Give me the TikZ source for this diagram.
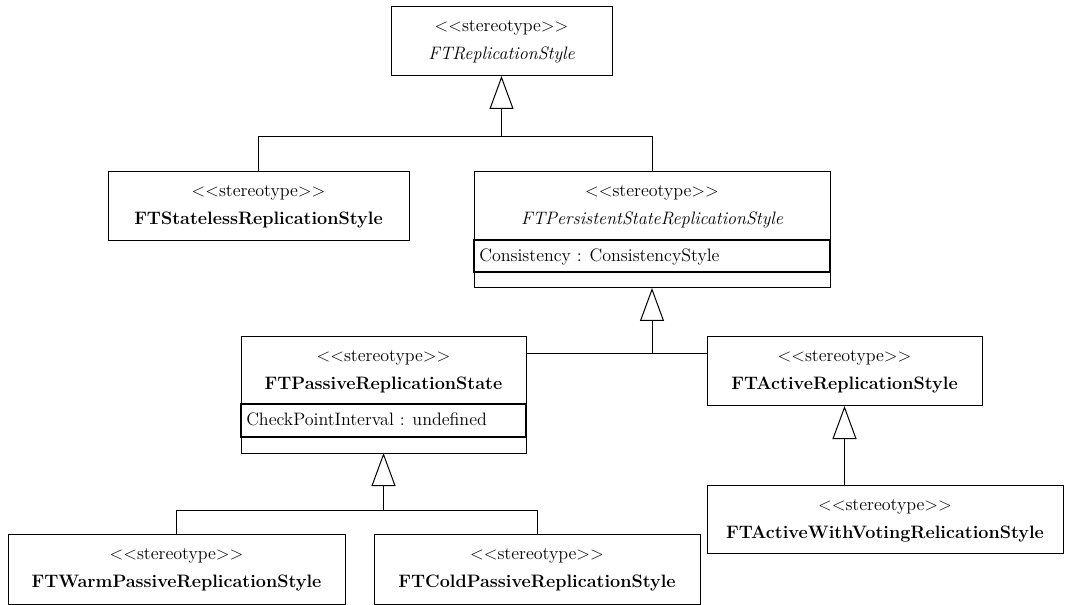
\documentclass[tikz,border=0pt]{standalone}
\usetikzlibrary{arrows.meta,calc}
\begin{document}
\begin{tikzpicture}[x=0.75pt,y=-0.75pt,
  cls/.style={draw=black, line width=0.75pt, rectangle, inner sep=0pt, outer sep=0pt, anchor=north west},
  txt/.style={inner sep=0pt, anchor=base, font=\fontsize{13.5}{16}\selectfont},
  cname/.style={txt, font=\fontsize{13.5}{16}\selectfont\bfseries},
  aname/.style={txt, font=\fontsize{13.5}{16}\selectfont\itshape},
  attr/.style={txt, anchor=base west},
  attrrow/.style={draw, line width=1.5pt},
  link/.style={draw, line width=0.75pt},
  gen/.style={draw, line width=0.75pt, -{Triangle[open, length=24.75pt, width=18pt, line width=0.75pt]}}]
\useasboundingbox (0,0) rectangle (1077,605);

% class boxes
\node[cls, minimum width=165.75pt, minimum height=51.75pt] (top) at (391,7) {};
\node[cls, minimum width=225.75pt, minimum height=51.75pt] (stateless) at (108,172) {};
\node[cls, minimum width=267pt, minimum height=87pt] (persist) at (474,172) {};
\node[cls, minimum width=213.75pt, minimum height=87pt] (passive) at (241,337) {};
\node[cls, minimum width=206.25pt, minimum height=51.75pt] (active) at (707,337) {};
\node[cls, minimum width=267pt, minimum height=51pt] (voting) at (707,485) {};
\node[cls, minimum width=252.75pt, minimum height=52.5pt] (warm) at (8,534) {};
\node[cls, minimum width=244.5pt, minimum height=52.5pt] (cold) at (374,534) {};

% texts
\node[txt] (top-s) at ($(top.north)+(0,25)$) {{<}{<}stereotype{>}{>}};
\node[aname] (top-n) at ($(top.north)+(0,53)$) {FTReplicationStyle};

\node[txt] (stateless-s) at ($(stateless.north)+(0,25)$) {{<}{<}stereotype{>}{>}};
\node[cname] (stateless-n) at ($(stateless.north)+(0,53)$) {FTStatelessReplicationStyle};

\node[txt] (persist-s) at ($(persist.north)+(0,25)$) {{<}{<}stereotype{>}{>}};
\node[aname] (persist-n) at ($(persist.north)+(0,53)$) {FTPersistentStateReplicationStyle};
\draw[attrrow] ($(persist.north west)+(0,68)$) rectangle ($(persist.north east)+(0,100)$);
\node[attr] (persist-a) at ($(persist.north west)+(5,90)$) {Consistency : ConsistencyStyle};

\node[txt] (passive-s) at ($(passive.north)+(0,25)$) {{<}{<}stereotype{>}{>}};
\node[cname] (passive-n) at ($(passive.north)+(0,53)$) {FTPassiveReplicationState};
\draw[attrrow] ($(passive.north west)+(0,67)$) rectangle ($(passive.north east)+(0,100)$);
\node[attr] (passive-a) at ($(passive.north west)+(5,89)$) {CheckPointInterval : undefined};

\node[txt] (active-s) at ($(active.north)+(0,25)$) {{<}{<}stereotype{>}{>}};
\node[cname] (active-n) at ($(active.north)+(0,53)$) {FTActiveReplicationStyle};

\node[txt] (voting-s) at ($(voting.north)+(0,25)$) {{<}{<}stereotype{>}{>}};
\node[cname] (voting-n) at ($(voting.north)+(0,53)$) {FTActiveWithVotingRelicationStyle};

\node[txt] (warm-s) at ($(warm.north)+(0,25)$) {{<}{<}stereotype{>}{>}};
\node[cname] (warm-n) at ($(warm.north)+(0,53)$) {FTWarmPassiveReplicationStyle};

\node[txt] (cold-s) at ($(cold.north)+(0,25)$) {{<}{<}stereotype{>}{>}};
\node[cname] (cold-n) at ($(cold.north)+(0,53)$) {FTColdPassiveReplicationStyle};

% generalizations
\coordinate (j1) at (0,137);
\coordinate (j2) at (0,354);
\coordinate (j3) at (0,510);

\draw[link] (stateless.north) |- (j1 -| persist.north) -- (persist.north);
\draw[gen] (j1 -| top.south) -- (top.south);

\draw[link] (passive.east |- j2) -- (active.west |- j2);
\draw[gen] (j2 -| persist.south) -- (persist.south);

\draw[gen] (voting.north -| active.south) -- (active.south);

\draw[link] (warm.north) |- (j3 -| cold.north) -- (cold.north);
\draw[gen] (j3 -| passive.south) -- (passive.south);
\end{tikzpicture}
\end{document}
